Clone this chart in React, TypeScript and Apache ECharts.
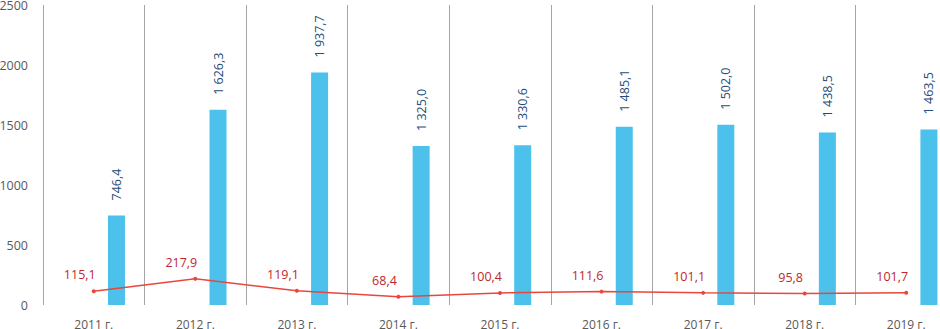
import React, { useEffect, useRef } from "react";
import * as echarts from "echarts";

const categories = ["2011 г.", "2012 г.", "2013 г.", "2014 г.", "2015 г.", "2016 г.", "2017 г.", "2018 г.", "2019 г."];
const barValues = [746.4, 1626.3, 1937.7, 1325.0, 1330.6, 1485.1, 1502.0, 1438.5, 1463.5];
const lineValues = [115.1, 217.9, 119.1, 68.4, 100.4, 111.6, 101.1, 95.8, 101.7];
const yTicks = [0, 500, 1000, 1500, 2000, 2500];

const fmt = (v: number) => {
  const [i, d] = v.toFixed(1).split(".");
  const ip = i.replace(/\B(?=(\d{3})+(?!\d))/g, " ");
  return ip + "," + d;
};

export default function App() {
  const ref = useRef<HTMLDivElement>(null);
  useEffect(() => {
    const chart = echarts.init(ref.current!, null, { renderer: "svg" });
    const font = "'Open Sans', sans-serif";
    chart.setOption({
      animation: false,
      textStyle: { fontFamily: font },
      grid: { left: 43, top: 5, width: 914, bottom: 24, containLabel: false, outerBoundsMode: "none" },
      xAxis: {
        type: "category",
        data: categories,
        boundaryGap: true,
        axisLine: { show: false },
        axisTick: { show: false },
        axisLabel: { color: "#595959", fontSize: 12, margin: 13, fontFamily: font },
        splitLine: { show: true, lineStyle: { color: "#a6a6a6", width: 1 } },
      },
      yAxis: {
        type: "value",
        min: yTicks[0],
        max: yTicks[yTicks.length - 1],
        interval: 500,
        axisLine: { show: false },
        axisTick: { show: false },
        splitLine: { show: false },
        axisLabel: {
          color: "#595959",
          fontSize: 12.5,
          margin: 15,
          fontFamily: font,
          formatter: (v: number) => String(v),
        },
      },
      series: [
        {
          type: "bar",
          name: "spacer",
          data: categories.map(() => "-"),
          barWidth: 17,
          barGap: "167%",
          silent: true,
        },
        {
          type: "bar",
          name: "values",
          data: barValues,
          barWidth: 17,
          barGap: "167%",
          itemStyle: { color: "#4bc1eb" },
          label: {
            show: true,
            position: "top",
            rotate: 90,
            align: "left",
            verticalAlign: "middle",
            distance: 13,
            offset: [2, 0],
            color: "#1f4e79",
            fontSize: 12.5,
            fontFamily: font,
            formatter: (p: any) => fmt(p.value),
          },
          z: 2,
        },
        {
          type: "line",
          name: "index",
          data: lineValues,
          symbol: "circle",
          symbolSize: 4,
          lineStyle: { color: "#e8473c", width: 1.5 },
          itemStyle: { color: "#e8473c" },
          label: {
            show: true,
            position: "top",
            offset: [-14, -3],
            color: "#c0272d",
            fontSize: 12.5,
            fontFamily: font,
            formatter: (p: any) => fmt(p.value),
          },
          z: 3,
        },
      ],
    });
    return () => chart.dispose();
  }, []);
  return <div ref={ref} style={{ position: "absolute", left: 0, top: 0, width: 940, height: 329 }} />;
}
